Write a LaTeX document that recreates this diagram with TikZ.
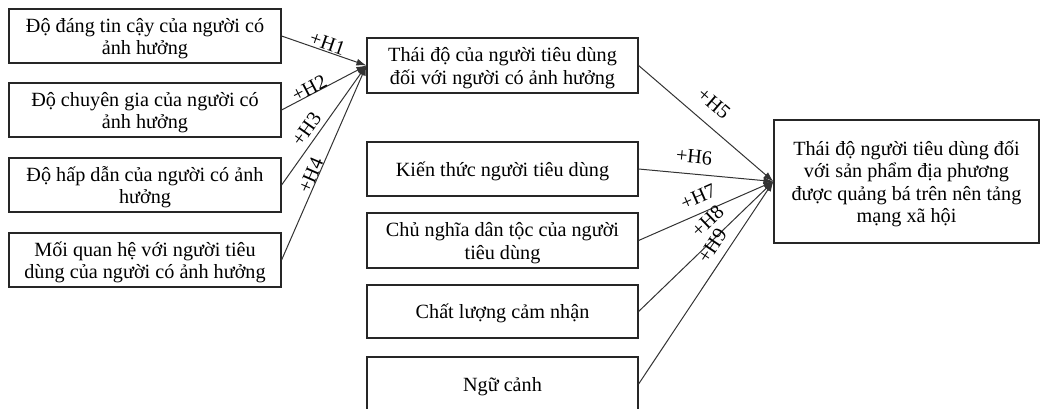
\documentclass[tikz,border=0pt]{standalone}
\usepackage{fontspec}
\setmainfont{Liberation Serif}
\usetikzlibrary{arrows.meta}
\newcommand\boxfont{\fontsize{20.2}{22.4}\selectfont}
\newcommand\lowtxt[1]{\raisebox{-3pt}[\height][\depth]{\begin{tabular}{@{}c@{}}#1\end{tabular}}}
\begin{document}
\begin{tikzpicture}[x=1pt,y=-1pt,
  box/.style={draw=black!85, line width=1.2pt, align=center, inner sep=0pt, font=\boxfont},
  lbox/.style={box, minimum width=272pt, minimum height=54pt},
  mbox/.style={box, minimum width=271pt, minimum height=54pt},
  arr/.style={draw=black!80, line width=1pt, -{Latex[length=10pt,width=7pt]}},
  lbl/.style={font=\boxfont, sloped, inner sep=0pt}]
\useasboundingbox (0,0) rectangle (1041,409);
\clip (0,0) rectangle (1041,409);
% left column
\node[lbox] (b1) at (145,36) {\lowtxt{Độ đáng tin cậy của người có\\ảnh hưởng}};
\node[lbox] (b2) at (145,110) {\lowtxt{Độ chuyên gia của người có\\ảnh hưởng}};
\node[lbox] (b3) at (145,185) {\lowtxt{Độ hấp dẫn của người có ảnh\\hưởng}};
\node[lbox] (b4) at (145,260) {\lowtxt{Mối quan hệ với người tiêu\\dùng của người có ảnh hưởng}};
% middle column
\node[mbox, minimum height=55pt] (m0) at (502.5,65.5) {\lowtxt{Thái độ của người tiêu dùng\\đối với người có ảnh hưởng}};
\node[mbox] (k1) at (502.5,169) {\lowtxt{Kiến thức người tiêu dùng}};
\node[mbox, minimum height=55pt] (k2) at (502.5,240.5) {\lowtxt{Chủ nghĩa dân tộc của người\\tiêu dùng}};
\node[mbox, minimum height=53pt] (k3) at (502.5,311.5) {\lowtxt{Chất lượng cảm nhận}};
\node[mbox] (k4) at (502.5,384) {\lowtxt{Ngữ cảnh}};
% right
\node[box, minimum width=265pt, minimum height=123pt] (R) at (906.5,181.5) {\lowtxt{Thái độ người tiêu dùng đối\\với sản phẩm địa phương\\được quảng bá trên nên tảng\\mạng xã hội}};
% connectors
\draw[arr] (b1.east) -- (m0.west) node[lbl, pos=0.51, above=1pt] {+H1};
\draw[arr] (b2.east) -- (m0.west) node[lbl, pos=0.36, above=-1pt] {+H2};
\draw[arr] (b3.east) -- (m0.west) node[lbl, pos=0.41, above=5pt] {+H3};
\draw[arr] (b4.east) -- (m0.west) node[lbl, pos=0.42, above=0pt] {+H4};
\draw[arr] (m0.east) -- (R.west) node[lbl, pos=0.46, above=13pt] {+H5};
\draw[arr] (k1.east) -- (R.west) node[lbl, pos=0.40, above=10pt] {+H6};
\draw[arr] (k2.east) -- (R.west) node[lbl, pos=0.49, above=9pt] {+H7};
\draw[arr] (k3.east) -- (R.west) node[lbl, pos=0.60, above=10pt] {+H8};
\draw[arr] (k4.east) -- (R.west) node[lbl, pos=0.64, above=8pt] {+H9};
\end{tikzpicture}
\end{document}
